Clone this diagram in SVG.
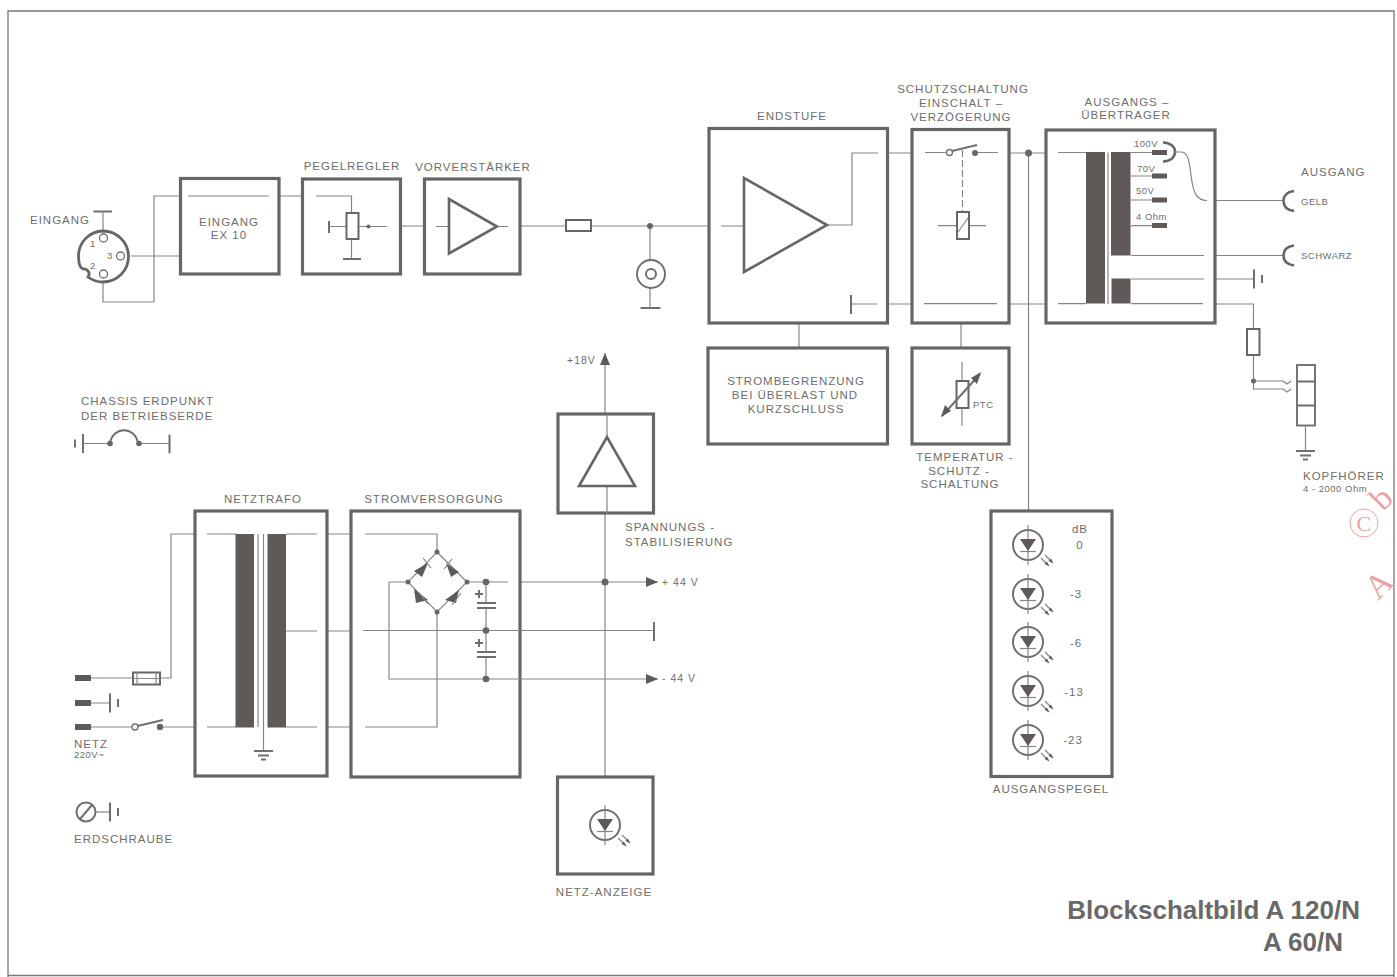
<svg xmlns="http://www.w3.org/2000/svg" xmlns:xlink="http://www.w3.org/1999/xlink" width="1397" height="977" viewBox="0 0 1397 977">
<style>
.box{fill:none;stroke:#666;stroke-width:3.2}
.l{fill:none;stroke:#858583;stroke-width:1.2}
.m{fill:none;stroke:#706f6d;stroke-width:2}
.h{fill:none;stroke:#666;stroke-width:2.6}
.f{fill:#5f5a58;stroke:none}
.d{fill:#666;stroke:none}
.o{fill:#fff;stroke:#706f6d;stroke-width:1.3}
text{font-family:"Liberation Sans",Arial,sans-serif;fill:#6e6e6c;font-size:11.5px;letter-spacing:1px}
.c{text-anchor:middle}
.s{font-size:9.5px;letter-spacing:.5px}
.t{font-size:26px;font-weight:bold;letter-spacing:0;text-anchor:end;fill:#696967}
.w{fill:#e9a3a6;font-family:"Liberation Serif",serif;font-size:34px;letter-spacing:0}
</style>
<defs>
<g id="led">
<circle class="m" r="15"/>
<path class="l" d="M0-20V20"/>
<path class="f" d="M-8-6H8L0 6Z"/>
<path class="l" d="M-8 6.500H8"/>
<path class="l" d="M13 13L21 21M17 10L25 18"/>
<path class="f" d="M21 21L16.500 19L19 16.500ZM25 18L20.500 16L23 13.500Z"/>
</g>
<g id="gnd"><path class="m" d="M-9.500 0H9.500M-5.500 4.500H5.500M-2.500 8.500H2.500"/></g>
<g id="chassis"><path class="m" d="M0-9.500V9.500"/><path class="m" d="M8-4V4"/></g>
<marker id="arr" markerWidth="13" markerHeight="10" refX="12" refY="5" orient="auto" markerUnits="userSpaceOnUse"><path class="f" d="M0 0L12 5L0 10Z"/></marker>
</defs>
<rect width="1397" height="977" fill="#fff"/>
<path d="M8 977V11H1394V977M8 975.500H1394" fill="none" stroke="#777" stroke-width="1.300"/>

<g id="connectors">
<path class="l" d="M131 256H180M103 283V302H154V196H180M279 196H302M401 226H424M520 226H566M591 226H709M650 226V260M650 288V309"/>
<path class="l" d="M888 153H912M888 304H912M799 323V348M961 323V348M1009 153H1046M1009 304H1046M1028.500 153V511"/>
<path class="l" d="M1215 200.500H1283M1215 255.500H1283M1215 279H1254M1215 304H1253.500V329M1253.500 355V389H1283M1253.500 381H1283"/>
<path class="l" d="M1283 381L1287 384L1291 381M1283 389L1287 392L1291 389"/>
<path class="l" d="M171 678V534H195M160 678H171M91 678H133M91 703H110M91 727H132M163 727H195M327 534H351M327 631H351M327 727H351"/>
<path class="l" d="M521 582H658" marker-end="url(#arr)"/>
<path class="l" d="M521 679H658" marker-end="url(#arr)"/>
<path class="l" d="M521 630.500H654"/>
<path class="l" d="M605 414V353" marker-end="url(#arr)"/>
<path class="l" d="M605 513V777"/>
<circle class="d" cx="605" cy="582" r="3.500"/>
<circle class="d" cx="1028.500" cy="153" r="3.500"/>
<circle class="d" cx="650" cy="226" r="3"/>
<circle class="d" cx="1253.500" cy="381" r="2.500"/>
</g>

<g id="frontplate">
<path class="m" d="M93.500 211.500H112"/><path class="l" d="M103 211.500V231"/>
<path d="M103 231A25 25 0 1 1 103 282C97 282 92 280 88 277C91 273 87 268 83 269C79 267 79 263 78.500 257A25 25 0 0 1 103 231Z" fill="#fff" stroke="#666" stroke-width="2.800"/>
<circle class="o" cx="103.500" cy="238" r="4"/><circle class="o" cx="120.500" cy="256" r="4"/><circle class="o" cx="103.500" cy="274" r="4"/>
<text x="30" y="224">EINGANG</text>
<text class="s" x="90" y="247">1</text><text class="s" x="107" y="259">3</text><text class="s" x="90" y="269">2</text>
</g>

<g id="eingang-ex10">
<rect class="box" x="180.500" y="178.500" width="98.500" height="95.500"/>
<path class="l" d="M188 196H269"/>
<text class="c" x="229" y="226">EINGANG</text><text class="c" x="229" y="239">EX 10</text>
</g>

<g id="pegelregler">
<rect class="box" x="302.500" y="179" width="98" height="95"/>
<path class="l" d="M316 196H351.500V213M351.500 239V259M329 226.500H387"/>
<path class="m" d="M329 221V233M343 259H361"/>
<rect x="346.500" y="213" width="12" height="26" fill="#fff" stroke="#666" stroke-width="2"/>
<circle class="d" cx="368.500" cy="226.500" r="2"/>
<text class="c" x="352" y="170">PEGELREGLER</text>
</g>

<g id="vorverstaerker">
<rect class="box" x="424.500" y="179" width="95.500" height="95"/>
<path class="l" d="M436 226.500H449M497 226.500H508"/>
<path class="h" d="M449 199V253.500L497 226.500Z"/>
<text class="c" x="473" y="171">VORVERSTÄRKER</text>
</g>

<g id="sicherung"><rect x="566" y="220" width="25" height="11" fill="#fff" stroke="#666" stroke-width="2"/></g>

<g id="buchse">
<circle class="m" cx="651" cy="274" r="14"/><circle class="m" cx="651" cy="274" r="5"/>
<path class="m" d="M640.500 308H660.500"/>
</g>

<g id="endstufe">
<rect class="box" x="709" y="128.500" width="178.500" height="194.500"/>
<path class="l" d="M721 226H744M827 225H852V153H878M851 304H877"/>
<path class="h" d="M744 178V272L827 225Z"/>
<path class="m" d="M851 295V314"/>
<text class="c" x="792" y="120">ENDSTUFE</text>
</g>

<g id="schutzschaltung">
<rect class="box" x="912" y="129.500" width="97" height="193.500"/>
<path class="l" d="M925 152.500H946M978 152.500H998M938 225.700H957M969 225.700H986M924 303.700H997"/>
<path class="l" d="M962.500 150V212" stroke-dasharray="7 3"/>
<circle class="o" cx="949.500" cy="152.500" r="3"/>
<path class="m" d="M952 151L977 145"/>
<circle class="d" cx="975" cy="153" r="3"/>
<rect x="957" y="212" width="12" height="27" fill="#fff" stroke="#666" stroke-width="2"/>
<path class="l" d="M958 232L968 218"/>
<text class="c" x="963" y="93">SCHUTZSCHALTUNG</text><text class="c" x="961" y="107">EINSCHALT –</text><text class="c" x="961" y="120.500">VERZÖGERUNG</text>
</g>

<g id="ausgangsuebertrager">
<rect class="box" x="1046" y="130" width="169" height="193"/>
<path class="l" d="M1058 152.500H1086M1058 303.700H1086M1108 152.500V304M1131 152.500H1152M1131 176H1152M1131 200H1152M1131 225.700H1152M1131 255.500H1204M1131 279H1204M1131 303.700H1203"/>
<rect class="f" x="1086" y="152" width="19" height="151.500"/>
<rect class="f" x="1111" y="152" width="19.500" height="103.500"/>
<rect class="f" x="1111.500" y="278.500" width="19" height="25"/>
<g class="f"><rect x="1152" y="150" width="15" height="5"/><rect x="1152" y="173.500" width="15" height="5"/><rect x="1152" y="197.500" width="15" height="5"/><rect x="1152" y="223" width="15" height="5"/></g>
<path class="h" d="M1163 142.500C1171 143 1175 147 1175 152C1175 157 1171 161 1163 161.500"/>
<path class="l" d="M1175 152H1181C1187 152 1189 158 1191 175C1193 192 1196 200.500 1207 200.500"/>
<text class="s" x="1134" y="147">100V</text><text class="s" x="1137" y="172">70V</text><text class="s" x="1136" y="194">50V</text><text class="s" x="1136" y="220">4 Ohm</text>
<text class="c" x="1127" y="106">AUSGANGS –</text><text class="c" x="1126" y="119">ÜBERTRAGER</text>
</g>

<g id="ausgang">
<path class="h" d="M1294 191C1287 192 1283.500 196 1283.500 201C1283.500 206 1287 210 1294 211"/>
<path class="h" d="M1294 245.500C1287 246.500 1283.500 250.500 1283.500 255.500C1283.500 260.500 1287 264.500 1294 265.500"/>
<use href="#chassis" x="1254" y="279"/>
<text x="1301" y="176">AUSGANG</text>
<text class="s" x="1301" y="205">GELB</text><text class="s" x="1301" y="259">SCHWARZ</text>
</g>

<g id="kopfhoerer">
<rect x="1247" y="329" width="12.500" height="26" fill="#fff" stroke="#666" stroke-width="2"/>
<rect x="1297" y="365" width="18" height="60.500" fill="none" stroke="#666" stroke-width="1.800"/>
<path class="m" d="M1297 381.500H1315M1297 405.500H1315"/>
<path class="l" d="M1305.500 425.500V451"/>
<use href="#gnd" x="1305.500" y="451"/>
<text x="1303" y="480">KOPFHÖRER</text><text class="s" x="1303" y="492">4 - 2000 Ohm</text>
</g>

<g id="strombegrenzung">
<rect class="box" x="708" y="348" width="179.500" height="96"/>
<text class="c" x="796" y="385">STROMBEGRENZUNG</text><text class="c" x="795" y="399">BEI ÜBERLAST UND</text><text class="c" x="796" y="413">KURZSCHLUSS</text>
</g>

<g id="temperaturschutz">
<rect class="box" x="912" y="348" width="97" height="96"/>
<path class="l" d="M962 362V381M962 408V426"/>
<rect x="956.500" y="381" width="12" height="27" fill="#fff" stroke="#666" stroke-width="2"/>
<path class="m" d="M942 416L980 374"/>
<path class="f" d="M981 372L977 384L971 378ZM941 417L945 405L951 411Z"/>
<text class="s" x="973" y="408">PTC</text>
<text class="c" x="965" y="461">TEMPERATUR -</text><text class="c" x="959" y="474.500">SCHUTZ -</text><text class="c" x="960" y="488">SCHALTUNG</text>
</g>

<g id="ausgangspegel">
<rect class="box" x="991" y="511" width="121" height="265.500"/>
<use href="#led" x="1028" y="545"/><use href="#led" x="1028" y="594"/><use href="#led" x="1028" y="642"/><use href="#led" x="1028" y="691"/><use href="#led" x="1028" y="740"/>
<text class="c" x="1080" y="533">dB</text><text class="c" x="1080" y="549">0</text><text class="c" x="1076" y="598">-3</text><text class="c" x="1076" y="647">-6</text><text class="c" x="1074" y="696">-13</text><text class="c" x="1073" y="744">-23</text>
<text class="c" x="1051" y="793">AUSGANGSPEGEL</text>
</g>

<g id="chassis-erdpunkt">
<text x="81" y="405">CHASSIS ERDPUNKT</text><text x="81" y="420">DER BETRIEBSERDE</text>
<use href="#chassis" x="83" y="443.500" transform="matrix(-1 0 0 1 166 0)"/>
<path class="l" d="M83 443.500H108M141 443.500H169"/>
<path class="m" d="M110 443C113 426 135 426 138 443M169.500 434.500V453.500"/>
<circle class="d" cx="110" cy="443.500" r="2.800"/><circle class="d" cx="139" cy="443.500" r="2.800"/>
</g>

<g id="netzanschluss">
<g class="f"><rect x="75" y="675" width="16" height="6"/><rect x="75" y="700" width="16" height="6"/><rect x="75" y="724" width="16" height="6"/></g>
<rect x="133" y="672.500" width="27" height="12" fill="#fff" stroke="#666" stroke-width="2"/>
<path class="l" d="M137 672.500V684.500M156 672.500V684.500M133 678.500H160"/>
<use href="#chassis" x="110" y="703"/>
<circle class="o" cx="135" cy="727" r="3"/>
<path class="m" d="M137.500 726L163 720"/>
<circle class="d" cx="160" cy="727" r="3.200"/>
<text x="74" y="748">NETZ</text><text class="s" x="74" y="758">220V~</text>
</g>

<g id="erdschraube">
<circle class="m" cx="86" cy="812" r="9.500" stroke-width="2.400"/>
<path class="m" d="M80 819L92 805"/>
<path class="l" d="M96 812H110"/>
<use href="#chassis" x="110" y="812"/>
<text x="74" y="843">ERDSCHRAUBE</text>
</g>

<g id="netztrafo">
<rect class="box" x="195" y="511" width="132" height="265"/>
<path class="l" d="M207 534H236M207 727H236M258 534V727M263.500 534V751M286 534H317M286 631H317M286 727H317"/>
<rect class="f" x="235.500" y="534" width="18.500" height="193.500"/>
<rect class="f" x="267.500" y="534" width="18.500" height="193.500"/>
<use href="#gnd" x="263.500" y="751"/>
<text class="c" x="263" y="503">NETZTRAFO</text>
</g>

<g id="stromversorgung">
<rect class="box" x="351" y="511" width="169" height="266"/>
<path class="l" d="M365 534H437V552M467 582H508M389 582H408M389 582V679H521M437 612V727H365M486 582V603M486 608V652M486 657V679M363 630.500H521"/>
<path class="l" d="M437 552L467 582L437 612L408 582Z"/>
<g class="f">
<path d="M414 571L428 563L422 577Z"/><path d="M446 563L459 572L451 577Z" transform="rotate(0)"/>
<path d="M414 589L428 600L416 603Z"/><path d="M445 600L459 590L456 603Z"/>
</g>
<path class="l" d="M423 558L431 568M444 569L452 559M420 594L428 604M452 605L461 593"/>
<g class="d"><circle cx="437" cy="552" r="2.500"/><circle cx="467" cy="582" r="2.500"/><circle cx="437" cy="612" r="2.500"/><circle cx="408" cy="582" r="2.500"/><circle cx="486" cy="582" r="3.300"/><circle cx="486" cy="630.500" r="3.300"/><circle cx="486" cy="679" r="3.300"/></g>
<path class="m" d="M477 603H496M477 608H496M477 652H496M477 657H496M475 594H483M479 590V598M475 643H483M479 639V647" stroke-width="1.700"/>
<text class="c" x="434" y="503">STROMVERSORGUNG</text>
</g>

<g id="masse-bar"><path class="m" d="M654 622V641"/></g>
<text x="662" y="586" style="font-size:10.500px">+ 44 V</text>
<text x="662" y="682" style="font-size:10.500px">- 44 V</text>

<g id="spannungsstabilisierung">
<rect class="box" x="558" y="414" width="95.500" height="99"/>
<path class="l" d="M607 414V437M607 486V513"/>
<path class="h" d="M607 437L579 486H635Z"/>
<text style="font-size:10.500px" x="567" y="364">+18V</text>
<text x="625" y="531">SPANNUNGS -</text><text x="625" y="546">STABILISIERUNG</text>
</g>

<g id="netz-anzeige">
<rect class="box" x="557.500" y="777" width="95.500" height="97"/>
<use href="#led" x="605" y="825"/>
<text class="c" x="604" y="896">NETZ-ANZEIGE</text>
</g>

<g id="titel">
<text class="t" x="1360" y="919">Blockschaltbild A 120/N</text>
<text class="t" x="1343" y="951">A 60/N</text>
</g>

<g id="wasserzeichen">
<circle cx="1364" cy="523" r="14" fill="none" stroke="#e9a3a6" stroke-width="1"/>
<text class="w" style="font-size:22px" x="1356.500" y="531">C</text>
<text class="w" transform="translate(1378 601) rotate(-45)">A</text>
<text class="w" transform="translate(1383 512) rotate(-45)">b</text>
</g>
</svg>
